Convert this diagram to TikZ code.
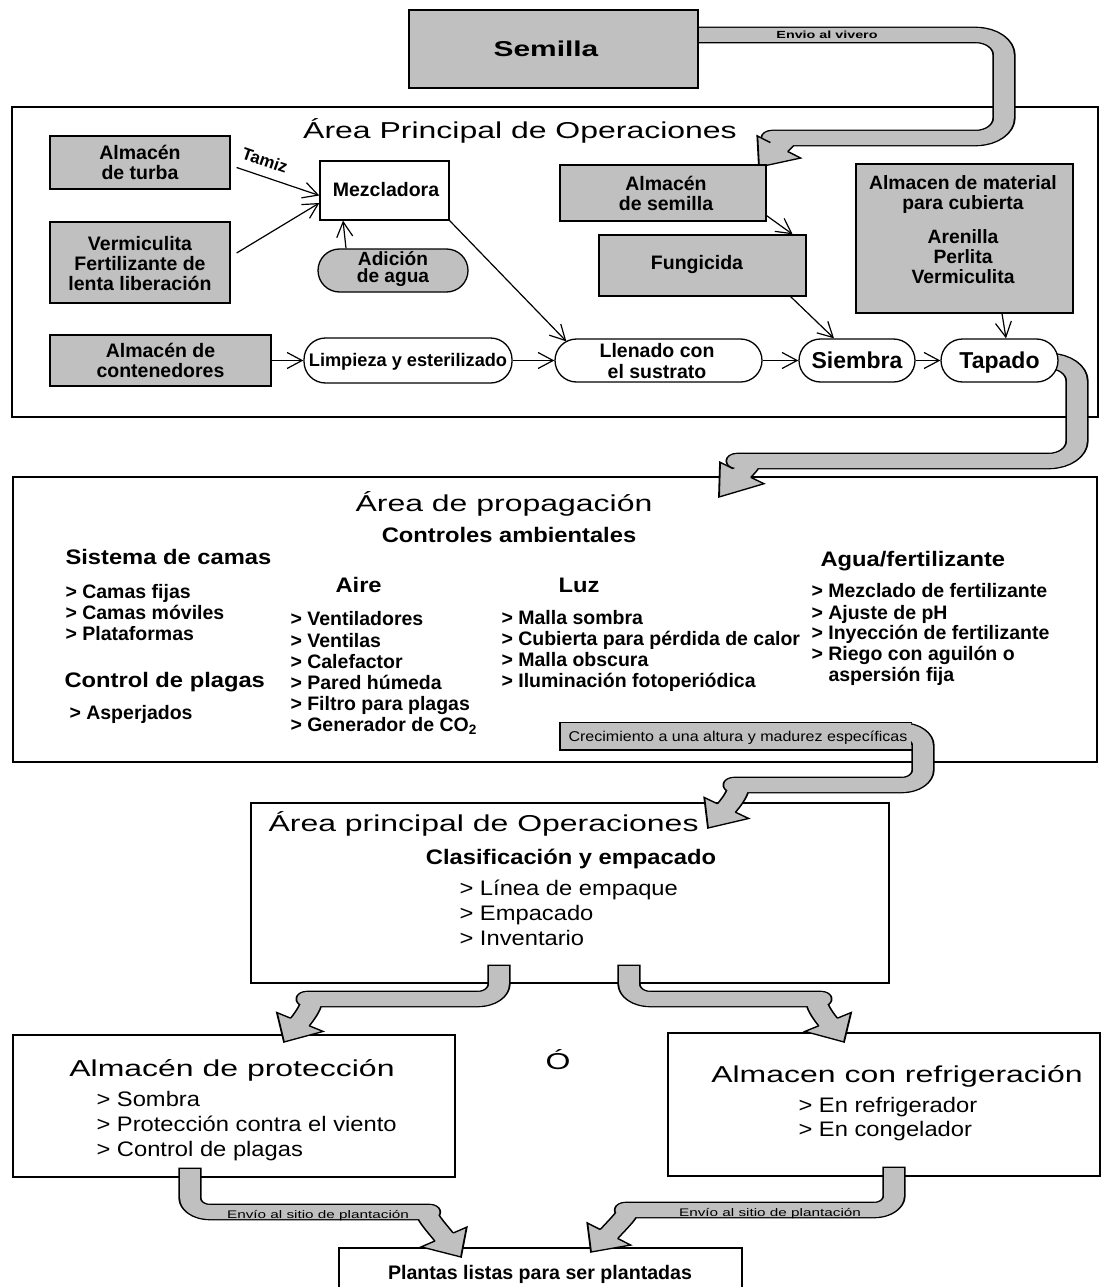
\documentclass[tikz,border=0pt]{standalone}
\usepackage{fontspec}
\setmainfont{Liberation Sans}
\newfontfamily\widefont{Liberation Sans}[FakeStretch=1.39]
\newfontfamily\medfont{Liberation Sans}[FakeStretch=1.13]
\usetikzlibrary{arrows.meta,calc,fit}
\definecolor{agray}{RGB}{192,192,192}
\newcommand\headw{19pt}
\newcommand\bandh{7.65pt}
\newcommand\fathead[2]{%
  \fill[agray] let \p1=($(#2)-(#1)$), \n1={atan2(\y1,\x1)} in
    ($(#1)+(\n1+90:\bandh)$) -- ($(#1)+(\n1+90:\headw)$) -- (#2)
    -- ($(#1)+(\n1-90:\headw)$) -- ($(#1)+(\n1-90:\bandh)$) -- cycle;
  \draw[line width=1.3pt, line join=miter] let \p1=($(#2)-(#1)$), \n1={atan2(\y1,\x1)} in
    ($(#1)+(\n1+90:\bandh)$) -- ($(#1)+(\n1+90:\headw)$) -- (#2)
    -- ($(#1)+(\n1-90:\headw)$) -- ($(#1)+(\n1-90:\bandh)$);
}
\tikzset{
  stretched/.style={transform canvas={xscale=1.4}, x=0.7142857pt, y=1pt},
  bigbox/.style={draw, line width=2.8pt, inner sep=0pt},
  gbox/.style={draw, line width=1.3pt, fill=agray, inner sep=0pt},
  wbox/.style={draw, line width=1.3pt, fill=white, inner sep=0pt},
  pill/.style={rounded corners=21.5pt},
  thinarrow/.style={line width=1.2pt, -{Straight Barb[length=15pt,width=16pt]}},
  fatband/.style={double=agray, double distance=14pt, line width=1.3pt, line cap=rect, line join=round},
  bx/.style={align=center, font=\fontsize{19.5}{20}\selectfont\bfseries},
  bxt/.style={align=center, font=\fontsize{19.1}{17}\selectfont\bfseries},
  it/.style={font=\fontsize{19.5}{21}\selectfont\bfseries},
  hd/.style={font=\fontsize{21}{25}\selectfont\medfont\bfseries},
  ri/.style={font=\fontsize{21}{25}\selectfont\medfont},
  ttl/.style={font=\fontsize{23}{27}\selectfont\widefont},
}
\begin{document}
\begin{tikzpicture}[x=1pt,y=1pt]
\fill[white] (0,0) rectangle (1112,-1287);
\useasboundingbox (0,0) rectangle (1112,-1287);

% ---------- big frames
\node[bigbox, fit={(12,-107) (1098,-417)}] (main) {};
\node[bigbox, fit={(13,-477) (1097,-762)}] (prop) {};
\node[bigbox, fit={(251,-803) (889,-983)}] (ops) {};
\node[bigbox, fit={(13,-1035) (455,-1177)}] (prot) {};
\node[bigbox, fit={(668,-1033) (1100,-1176)}] (refr) {};
\node[wbox, fit={(339,-1248) (742,-1310)}] (plantas) {};

% ---------- arrow Semilla -> Almacen de semilla
\begin{scope}[stretched]
\coordinate (aB) at (779,-147);
\coordinate (aT) at (759,-167);
\draw[fatband, rounded corners=20pt] (690,-35) -- (1004,-35) -- (1004,-138) -- (800,-138)
  .. controls (791,-138) and (786,-140) .. (aB);
\fathead{aB}{aT}
\end{scope}
\node[gbox, fit={(409,-10) (698,-88)}] (semilla) {};
\node[anchor=base, font=\fontsize{21.5}{25}\selectfont\widefont\bfseries] (semillat) at (546,-56.7) {Semilla};
\node[anchor=base, font=\fontsize{10.3}{12}\selectfont\widefont\bfseries] (vivero) at (827,-38.7) {Envio al vivero};

% ---------- arrow Tapado -> propagacion
\begin{scope}[stretched]
\coordinate (bB) at (742,-473);
\coordinate (bT) at (719,-497);
\draw[fatband, rounded corners=20pt] (1040,-361) -- (1077,-361) -- (1077,-461) -- (765,-461)
  .. controls (755,-461) and (750,-464) .. (bB);
\fathead{bB}{bT}
\end{scope}

% ---------- main operations area
\node[ttl, anchor=base] (t1) at (520,-138.2) {Área Principal de Operaciones};
\node[gbox, fit={(50,-136) (230,-189)}] (turba) {};
\node[bx] (turbat) at (140,-162.5) {Almacén\\de turba};
\node[gbox, fit={(50,-222) (230,-303)}] (verm) {};
\node[bx] (vermt) at (140,-263.5) {Vermiculita\\Fertilizante de\\lenta liberación};
\node[wbox, fit={(320,-161) (449,-220)}] (mezcla) {};
\node[bx, anchor=base] (mezclat) at (386,-196) {Mezcladora};
\node[gbox, pill, fit={(318,-249) (468,-292)}] (adicion) {};
\node[bxt] (adiciont) at (393,-269) {Adición\\de agua};
\node[gbox, fit={(50,-335) (271,-386)}] (conten) {};
\node[bx] (content) at (160.5,-360) {Almacén de\\contenedores};
\node[wbox, pill, fit={(304,-338) (512,-383)}] (limpieza) {};
\node[anchor=base, font=\fontsize{18.2}{20}\selectfont\bfseries] (limpiezat) at (408,-366.5) {Limpieza y esterilizado};
\node[gbox, fit={(560,-165) (766,-221)}] (semalm) {};
\node[bx] (semalmt) at (666,-193.5) {Almacén\\de semilla};
\node[gbox, fit={(599,-235) (806,-296)}] (fung) {};
\node[bx, anchor=base] (fungt) at (697,-269) {Fungicida};
\node[gbox, fit={(856,-164) (1073,-313)}] (material) {};
\node[bx, font=\fontsize{19.3}{20}\selectfont\bfseries] (materialt) at (963,-229.5)
  {Almacen de material\\para cubierta\\[14pt]Arenilla\\Perlita\\Vermiculita};
\node[wbox, pill, fit={(555,-339) (762,-382)}] (llenado) {};
\node[bx] (llenadot) at (657,-361) {Llenado con\\[1pt]el sustrato};
\node[wbox, pill, fit={(799,-339) (915,-382)}] (siembra) {};
\node[anchor=base, font=\fontsize{23}{25}\selectfont\bfseries] (siembrat) at (857,-368.2) {Siembra};
\node[wbox, pill, fit={(941,-339) (1058,-382)}] (tapado) {};
\node[anchor=base, font=\fontsize{23}{25}\selectfont\bfseries] (tapadot) at (999.5,-368.2) {Tapado};

\draw[thinarrow] ([xshift=6pt,yshift=-5pt]turba.east) -- ([yshift=-5pt]mezcla.west);
\node[rotate=-19, font=\fontsize{17}{20}\selectfont\bfseries] (tamiz) at (265,-160) {Tamiz};
\draw[thinarrow] ([xshift=6pt,yshift=9.5pt]verm.east) -- ([yshift=-12.5pt]mezcla.west);
\draw[thinarrow] ([xshift=-47pt]adicion.north) -- ([xshift=-41.5pt]mezcla.south);
\draw[thinarrow] (mezcla.south east) -- ([xshift=12pt,yshift=-3pt]llenado.north west);
\draw[thinarrow] (conten.east) -- (limpieza.west);
\draw[thinarrow] (limpieza.east) -- (llenado.west);
\draw[thinarrow] ([yshift=6pt]semalm.south east) -- ([xshift=-14pt]fung.north east);
\draw[thinarrow] ([xshift=-16pt]fung.south east) -- ([xshift=-23pt]siembra.north);
\draw[thinarrow] ([xshift=37.5pt]material.south) -- ([xshift=6.5pt]tapado.north);
\draw[thinarrow] (llenado.east) -- (siembra.west);
\draw[thinarrow] (siembra.east) -- (tapado.west);

% ---------- propagation area
\node[ttl, anchor=base] (pt1) at (504,-511.2) {Área de propagación};
\node[hd, anchor=base] (pt2) at (509,-542.5) {Controles ambientales};
\node[hd, anchor=base west] (sis) at (62,-564.5) {Sistema de camas};
\foreach \yy/\lab [count=\i] in {598/{> Camas fijas}, 619/{> Camas móviles}, 640/{> Plataformas}}
  \node[it, anchor=base west] (cam\i) at (62,-\yy) {\lab};
\node[hd, anchor=base west] (cpl) at (61,-687.5) {Control de plagas};
\node[it, anchor=base west] (asp) at (66,-719) {> Asperjados};
\node[hd, anchor=base west] (aire) at (332,-592.5) {Aire};
\foreach \yy/\lab [count=\i] in {625/{> Ventiladores}, 647/{> Ventilas}, 668/{> Calefactor},
   689/{> Pared húmeda}, 710/{> Filtro para plagas}, 731/{> Generador de CO\textsubscript{2}}}
  \node[it, anchor=base west] (air\i) at (287,-\yy) {\lab};
\node[hd, anchor=base west] (luz) at (555,-592.5) {Luz};
\foreach \yy/\lab [count=\i] in {624/{> Malla sombra}, 645/{> Cubierta para pérdida de calor},
   666/{> Malla obscura}, 687/{> Iluminación fotoperiódica}}
  \node[it, anchor=base west] (luz\i) at (498,-\yy) {\lab};
\node[hd, anchor=base west] (agua) at (817,-566.5) {Agua/fertilizante};
\foreach \yy/\lab [count=\i] in {597/{> Mezclado de fertilizante}, 619/{> Ajuste de pH},
   639/{> Inyección de fertilizante}, 660/{> Riego con aguilón o}}
  \node[it, anchor=base west] (agua\i) at (808,-\yy) {\lab};
\node[it, anchor=base west] (agua5) at (825,-681) {aspersión fija};

% ---------- fat arrows, lower part
\begin{scope}[stretched]
\coordinate (cB) at (726.5,-808);
\coordinate (cT) at (708,-828);
\draw[fatband, rounded corners=15pt] (900,-730.5) -- (923,-730.5) -- (923,-785) -- (755,-785)
  .. controls (743,-785) and (735,-798) .. (cB);
\fill[agray] (560,-722.2) rectangle (911,-750);
\draw[line width=1.3pt] (912,-722.2) -- (560,-722.2) -- (560,-750) -- (911.5,-750);
\fathead{cB}{cT}
\coordinate (dB) at (300,-1022);
\coordinate (dT) at (284,-1042);
\draw[fatband, rounded corners=15pt] (499,-973) -- (499,-999) -- (328,-999)
  .. controls (316,-999) and (308,-1012) .. (dB);
\fathead{dB}{dT}
\coordinate (eB) at (828,-1022);
\coordinate (eT) at (844,-1042);
\draw[fatband, rounded corners=15pt] (629,-973) -- (629,-999) -- (800,-999)
  .. controls (812,-999) and (820,-1012) .. (eB);
\fathead{eB}{eT}
\coordinate (fB) at (444,-1237);
\coordinate (fT) at (461,-1257);
\draw[fatband, rounded corners=14pt] (190,-1176) -- (190,-1212) -- (410,-1212)
  .. controls (422,-1212) and (436,-1227) .. (fB);
\fathead{fB}{fT}
\coordinate (gB) at (609,-1234);
\coordinate (gT) at (591,-1252);
\draw[fatband, rounded corners=14pt] (894,-1175) -- (894,-1210) -- (645,-1210)
  .. controls (633,-1210) and (618,-1224) .. (gB);
\fathead{gB}{gT}
\end{scope}

\node[anchor=base west, font=\fontsize{14.2}{16}\selectfont\medfont] (crec) at (565,-741)
  {Crecimiento a una altura y madurez específicas};
\node[anchor=base, font=\fontsize{11}{13}\selectfont\widefont] (envf) at (318,-1218) {Envío al sitio de plantación};
\node[anchor=base, font=\fontsize{11}{13}\selectfont\widefont] (envg) at (770,-1216) {Envío al sitio de plantación};

% ---------- operations 2
\node[ttl, anchor=base west] (ot) at (265,-831.2) {Área principal de Operaciones};
\node[hd, anchor=base] (oc) at (571,-864.5) {Clasificación y empacado};
\foreach \yy/\lab [count=\i] in {895.5/{> Línea de empaque}, 920.5/{> Empacado}, 945.5/{> Inventario}}
  \node[ri, anchor=base west] (op\i) at (456,-\yy) {\lab};

\node[ttl, anchor=base] (oo) at (558,-1069.2) {Ó};

\node[ttl, anchor=base] (prt) at (232,-1076.2) {Almacén de protección};
\foreach \yy/\lab [count=\i] in {1106.5/{> Sombra}, 1131.5/{> Protección contra el viento}, 1156.5/{> Control de plagas}}
  \node[ri, anchor=base west] (pr\i) at (93,-\yy) {\lab};
\node[ttl, anchor=base] (rft) at (897,-1082.2) {Almacen con refrigeración};
\foreach \yy/\lab [count=\i] in {1112.5/{> En refrigerador}, 1136.5/{> En congelador}}
  \node[ri, anchor=base west] (rf\i) at (795,-\yy) {\lab};

\node[anchor=base, font=\fontsize{19.6}{22}\selectfont\bfseries] (plantast) at (540,-1279) {Plantas listas para ser plantadas};

\end{tikzpicture}
\end{document}
